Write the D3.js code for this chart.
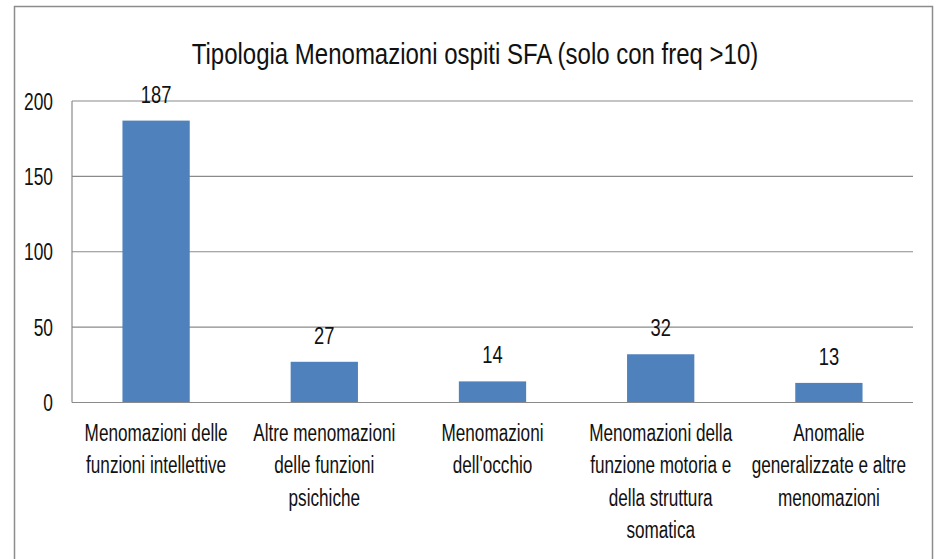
<!DOCTYPE html>
<html><head><meta charset="utf-8">
<script src="https://cdn.jsdelivr.net/npm/d3@7"></script>
<style>body{margin:0;background:#fff;}svg{display:block;}</style>
</head><body>
<script>
const title = "Tipologia Menomazioni  ospiti SFA (solo con freq >10)";
const categories = [
  ["Menomazioni delle", "funzioni intellettive"],
  ["Altre menomazioni", "delle funzioni", "psichiche"],
  ["Menomazioni", "dell'occhio"],
  ["Menomazioni della", "funzione motoria e", "della struttura", "somatica"],
  ["Anomalie", "generalizzate e altre", "menomazioni"]
];
const values = [187, 27, 14, 32, 13];
const yTicks = [0, 50, 100, 150, 200];

const W = 937, H = 559;
const FONT = "'Liberation Sans', Arial, sans-serif";
const svg = d3.select("body").append("svg").attr("width", W).attr("height", H);

// outer border
svg.append("rect").attr("x", 14.5).attr("y", 6.5).attr("width", 918).attr("height", 560)
  .attr("fill", "#fff").attr("stroke", "#8c8c8c").attr("stroke-width", 1.5);

const pL = 72, pR = 913, pT = 101, pB = 402.5;
const x = d3.scaleBand().domain(d3.range(values.length)).range([pL, pR]).paddingInner(0.6).paddingOuter(0.3);
const y = d3.scaleLinear().domain([0, 200]).range([pB, pT]);

function stext(sel, px, py, str, size, anchor, sx) {
  return sel.append("text")
    .attr("transform", `translate(${px},${py}) scale(${sx},1)`)
    .attr("text-anchor", anchor || "middle")
    .attr("font-family", FONT).attr("font-size", size).attr("fill", "#111")
    .text(str);
}

// gridlines
svg.append("g").selectAll("line").data(yTicks.filter(d => d > 0)).join("line")
  .attr("x1", pL).attr("x2", pR).attr("y1", d => y(d)).attr("y2", d => y(d))
  .attr("stroke", "#8a8a8a").attr("stroke-width", 1.2);

// bars
svg.append("g").selectAll("rect").data(values).join("rect")
  .attr("x", (d, i) => x(i)).attr("width", x.bandwidth())
  .attr("y", d => y(d)).attr("height", d => y(0) - y(d))
  .attr("fill", "#4F81BD");

// axes lines
svg.append("line").attr("x1", pL).attr("x2", pL).attr("y1", pT).attr("y2", pB)
  .attr("stroke", "#8a8a8a").attr("stroke-width", 1.2);
svg.append("line").attr("x1", pL).attr("x2", pR).attr("y1", pB).attr("y2", pB)
  .attr("stroke", "#8a8a8a").attr("stroke-width", 1.2);

// y tick labels
yTicks.forEach(t => stext(svg, 53, y(t) + 8.5, String(t), 23.5, "end", 0.74));

// data labels
values.forEach((v, i) => stext(svg, x(i) + x.bandwidth() / 2, y(v) - 18, String(v), 23.5, "middle", 0.78));

// category labels
categories.forEach((lines, i) => {
  lines.forEach((ln, j) => stext(svg, x(i) + x.bandwidth() / 2, 441 + j * 32.3, ln, 23.5, "middle", 0.73));
});

// title
stext(svg, 475, 64, title, 30, "middle", 0.8);
</script>
</body></html>
